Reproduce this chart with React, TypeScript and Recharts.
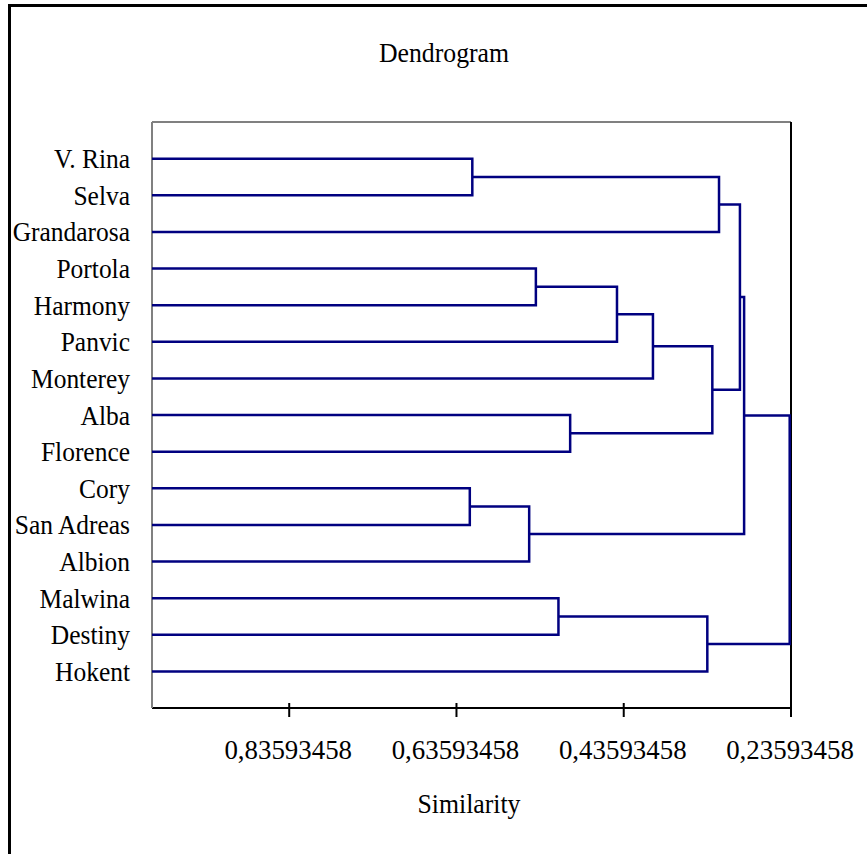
import React from 'react';
import { ScatterChart, Scatter, XAxis, YAxis, ReferenceLine } from 'recharts';

// Leaves, top to bottom
const leafNames = [
  'V. Rina', 'Selva', 'Grandarosa', 'Portola', 'Harmony', 'Panvic', 'Monterey',
  'Alba', 'Florence', 'Cory', 'San Adreas', 'Albion', 'Malwina', 'Destiny', 'Hokent',
];
// Linkage: node index (leaves 0..14, merged nodes 15..) joined at a similarity height
const mergeLeft = [0, 15, 3, 17, 18, 7, 19, 16, 9, 23, 22, 12, 26, 25];
const mergeRight = [1, 2, 4, 5, 6, 8, 20, 21, 10, 11, 24, 13, 14, 27];
const mergeHeights = [0.617, 0.322, 0.541, 0.444, 0.401, 0.5, 0.33, 0.297, 0.62, 0.549, 0.292, 0.514, 0.336, 0.2375];

const xTicks = [0.83593458, 0.63593458, 0.43593458, 0.23593458];
const xMin = 0.23593458;
const xMax = 1.0;
const yTicks = leafNames.map((_, i) => i + 1);

type Pt = { x: number; y: number };
const nodeY: number[] = leafNames.map((_, i) => i + 1);
const nodeH: number[] = leafNames.map(() => xMax);
const brackets: Pt[][] = [];
mergeLeft.forEach((a, k) => {
  const b = mergeRight[k];
  const h = mergeHeights[k];
  brackets.push([
    { x: nodeH[a], y: nodeY[a] },
    { x: h, y: nodeY[a] },
    { x: h, y: nodeY[b] },
    { x: nodeH[b], y: nodeY[b] },
  ]);
  nodeY.push((nodeY[a] + nodeY[b]) / 2);
  nodeH.push(h);
});

const FONT = '"Liberation Serif", "Times New Roman", serif';
const NAVY = '#000080';

const fmt = (v: number) => String(v).replace('.', ',');

const SText = ({ x, y, sx, anchor, children }: any) => (
  <text
    transform={`translate(${x},${y}) scale(${sx},1)`}
    x={0}
    y={0}
    textAnchor={anchor}
    fontFamily={FONT}
    fontSize={28}
    fill="#000"
  >
    {children}
  </text>
);

const XTick = (props: any) => {
  const { x, y, payload } = props;
  return (
    <g>
      <line x1={x} x2={x} y1={y - 5} y2={y + 9} stroke="#000" strokeWidth={2} />
      <SText x={x - 1} y={y + 51} sx={0.96} anchor="middle">{fmt(payload.value)}</SText>
    </g>
  );
};

const YTick = (props: any) => {
  const { x, y, payload } = props;
  return (
    <SText x={x} y={y + 9.5} sx={0.91} anchor="end">{leafNames[payload.value - 1] ?? ''}</SText>
  );
};

const NoDot = () => <g />;

export default function App() {
  return (
    <div style={{ position: 'absolute', left: 0, top: 0, width: 867, height: 854, overflow: 'hidden', background: '#fff' }}>
      <div
        style={{
          position: 'absolute', left: 8, top: 4, width: 900, height: 900,
          borderTop: '3px solid #000', borderLeft: '3px solid #000',
        }}
      />
      <div style={{ position: 'absolute', left: 0, top: 0 }}>
        <ScatterChart width={867} height={854} margin={{ top: 122, right: 0, bottom: 0, left: 0 }}>
          <XAxis
            xAxisId="bottom"
            orientation="bottom"
            type="number"
            dataKey="x"
            domain={[xMin, xMax]}
            reversed
            allowDataOverflow
            ticks={xTicks}
            interval={0}
            height={146}
            tickSize={0}
            tickMargin={0}
            tickLine={false}
            tick={<XTick />}
            axisLine={{ stroke: '#000', strokeWidth: 2 }}
          />
          <YAxis
            yAxisId="left"
            orientation="left"
            type="number"
            dataKey="y"
            domain={[0, 16]}
            reversed
            allowDataOverflow
            ticks={yTicks}
            interval={0}
            width={152}
            tickSize={0}
            tickMargin={22}
            tickLine={false}
            tick={<YTick />}
            axisLine={{ stroke: '#808080', strokeWidth: 2 }}
          />
          <YAxis
            yAxisId="right"
            orientation="right"
            type="number"
            dataKey="y"
            domain={[0, 16]}
            reversed
            allowDataOverflow
            width={76}
            tick={false}
            tickLine={false}
            axisLine={{ stroke: '#000', strokeWidth: 2 }}
          />
          <ReferenceLine y={0} xAxisId="bottom" yAxisId="left" stroke="#808080" strokeWidth={2} />
          {brackets.map((pts, i) => (
            <Scatter
              key={i}
              data={pts}
              xAxisId="bottom"
              yAxisId="left"
              line={{ stroke: NAVY, strokeWidth: 2.5 }}
              lineType="joint"
              shape={NoDot}
              fill="none"
              legendType="none"
              isAnimationActive={false}
            />
          ))}
        </ScatterChart>
      </div>
      <svg width={867} height={854} style={{ position: 'absolute', left: 0, top: 0, pointerEvents: 'none' }}>
        <SText x={444} y={62} sx={0.92} anchor="middle">Dendrogram</SText>
        <SText x={469} y={813} sx={0.92} anchor="middle">Similarity</SText>
      </svg>
    </div>
  );
}
